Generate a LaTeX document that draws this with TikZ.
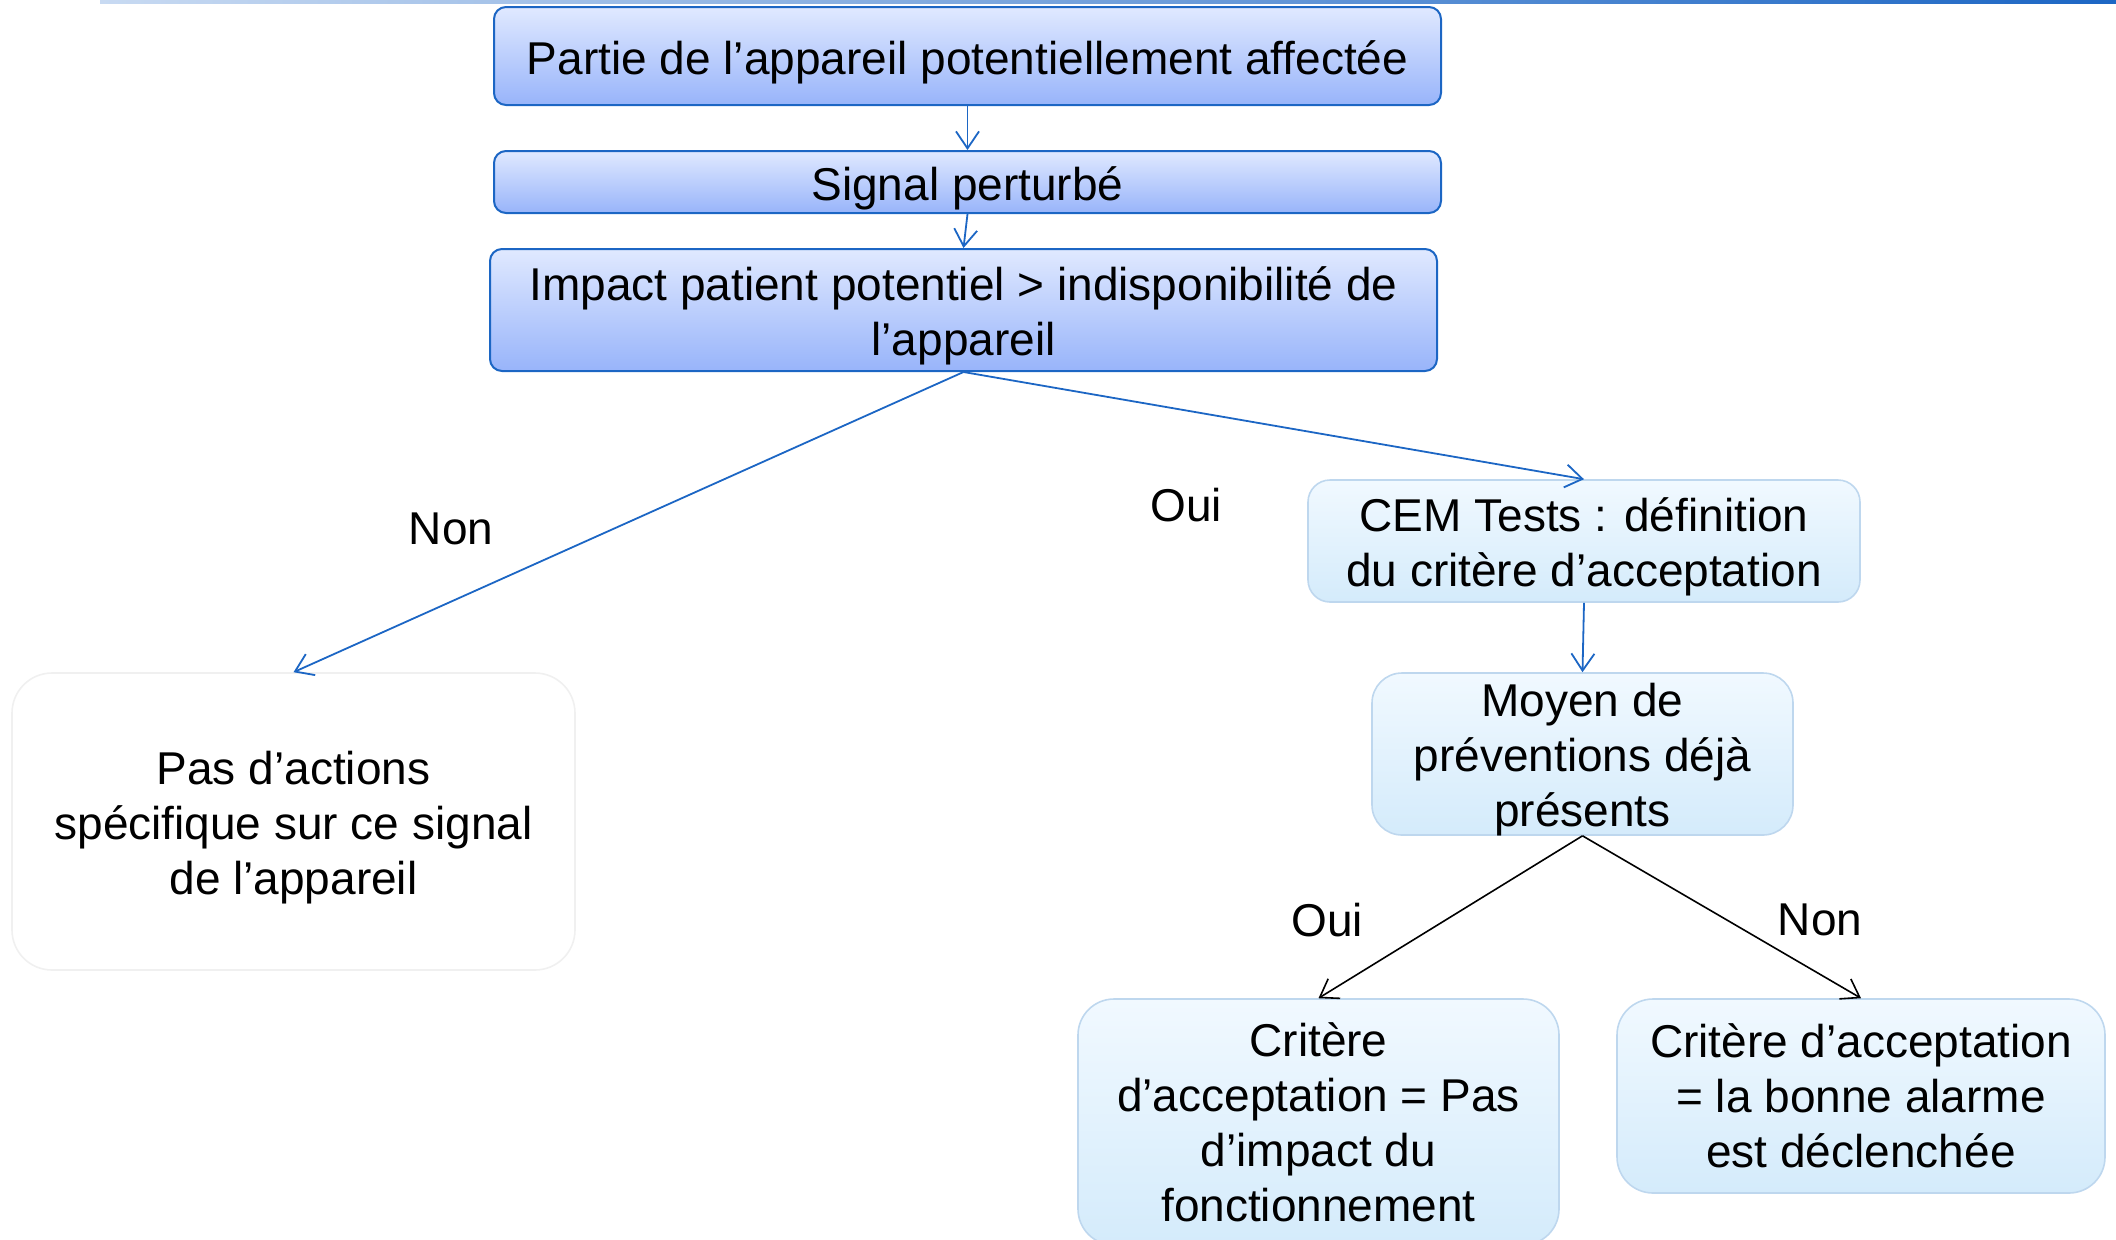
\documentclass[tikz,border=0pt]{standalone}
\usepackage{fontspec}
\setmainfont{Liberation Sans}
\usetikzlibrary{arrows.meta}
\definecolor{darkb}{RGB}{28,102,196}
\definecolor{topA}{RGB}{224,233,255}
\definecolor{botA}{RGB}{152,180,250}
\definecolor{topB}{RGB}{241,249,255}
\definecolor{botB}{RGB}{212,235,251}
\definecolor{edgeB}{RGB}{190,215,238}
\definecolor{lineL}{RGB}{200,218,242}
\tikzset{
  txt/.style={font=\fontsize{23}{27.5}\selectfont, align=center, inner sep=0pt},
  boxtext/.style={txt, yshift=-3pt},
  darkbox/.style={txt, draw=darkb, line width=1pt, rounded corners=6pt, top color=topA, bottom color=botA},
  lightbox/.style={txt, draw=edgeB, line width=0.8pt, top color=topB, bottom color=botB},
  whitebox/.style={txt, draw=black!6, line width=0.8pt, fill=white, rounded corners=20pt},
  barrow/.style={draw=darkb, line width=0.9pt, -{Straight Barb[length=8.5pt,width=11.5pt,line width=0.9pt]}},
  karrow/.style={draw=black, line width=0.8pt, -{Straight Barb[length=8.5pt,width=11.5pt,line width=0.8pt]}},
  lab/.style={font=\fontsize{23}{27.5}\selectfont, inner sep=0pt}
}
\begin{document}
\begin{tikzpicture}[x=0.5pt,y=-0.5pt]
\useasboundingbox (0,0) rectangle (2116,1239);
\shade[left color=lineL, right color=darkb] (100,0) rectangle (2116,3);
\node[darkbox, minimum width=473.5pt, minimum height=49pt,
  label={[boxtext]center:{Partie de l’appareil potentiellement affectée}}] (b1) at (967.5,56) {};
\node[darkbox, minimum width=473.5pt, minimum height=31pt,
  label={[boxtext]center:{Signal perturbé}}] (b2) at (967.5,182) {};
\node[darkbox, minimum width=473.5pt, minimum height=61pt,
  label={[boxtext]center:{Impact patient potentiel > indisponibilité de\\l’appareil}}] (b3) at (963.5,310) {};
\node[lightbox, rounded corners=11pt, minimum width=276pt, minimum height=61pt,
  label={[boxtext]center:{CEM Tests : définition\\du critère d’acceptation}}] (cem) at (1584,541) {};
\node[lightbox, rounded corners=15pt, minimum width=210.5pt, minimum height=81pt,
  label={[boxtext]center:{Moyen de\\préventions déjà\\présents}}] (moy) at (1582.5,754) {};
\node[whitebox, minimum width=281.5pt, minimum height=148.5pt,
  label={[boxtext]center:{Pas d’actions\\spécifique sur ce signal\\de l’appareil}}] (pas) at (293.5,821.5) {};
\node[lightbox, rounded corners=18pt, minimum width=240.5pt, minimum height=123pt] (c1) at (1318.5,1122) {Critère\\d’acceptation = Pas\\d’impact du\\fonctionnement};
\node[lightbox, rounded corners=18pt, minimum width=244pt, minimum height=97pt] (c2) at (1861,1096) {Critère d’acceptation\\= la bonne alarme\\est déclenchée};
\draw[barrow] (b1.south) -- (b2.north);
\draw[barrow] (b2.south) -- (b3.north);
\draw[barrow] (b3.south) -- (pas.north);
\draw[barrow] (b3.south) -- (cem.north);
\draw[barrow] (cem.south) -- (moy.north);
\draw[karrow] (moy.south) -- (c1.north);
\draw[karrow] (moy.south) -- (c2.north);
\node[lab] (l1) at (451,529) {Non};
\node[lab] (l2) at (1186,505) {Oui};
\node[lab] (l3) at (1327,920) {Oui};
\node[lab] (l4) at (1820,920) {Non};
\end{tikzpicture}
\end{document}
